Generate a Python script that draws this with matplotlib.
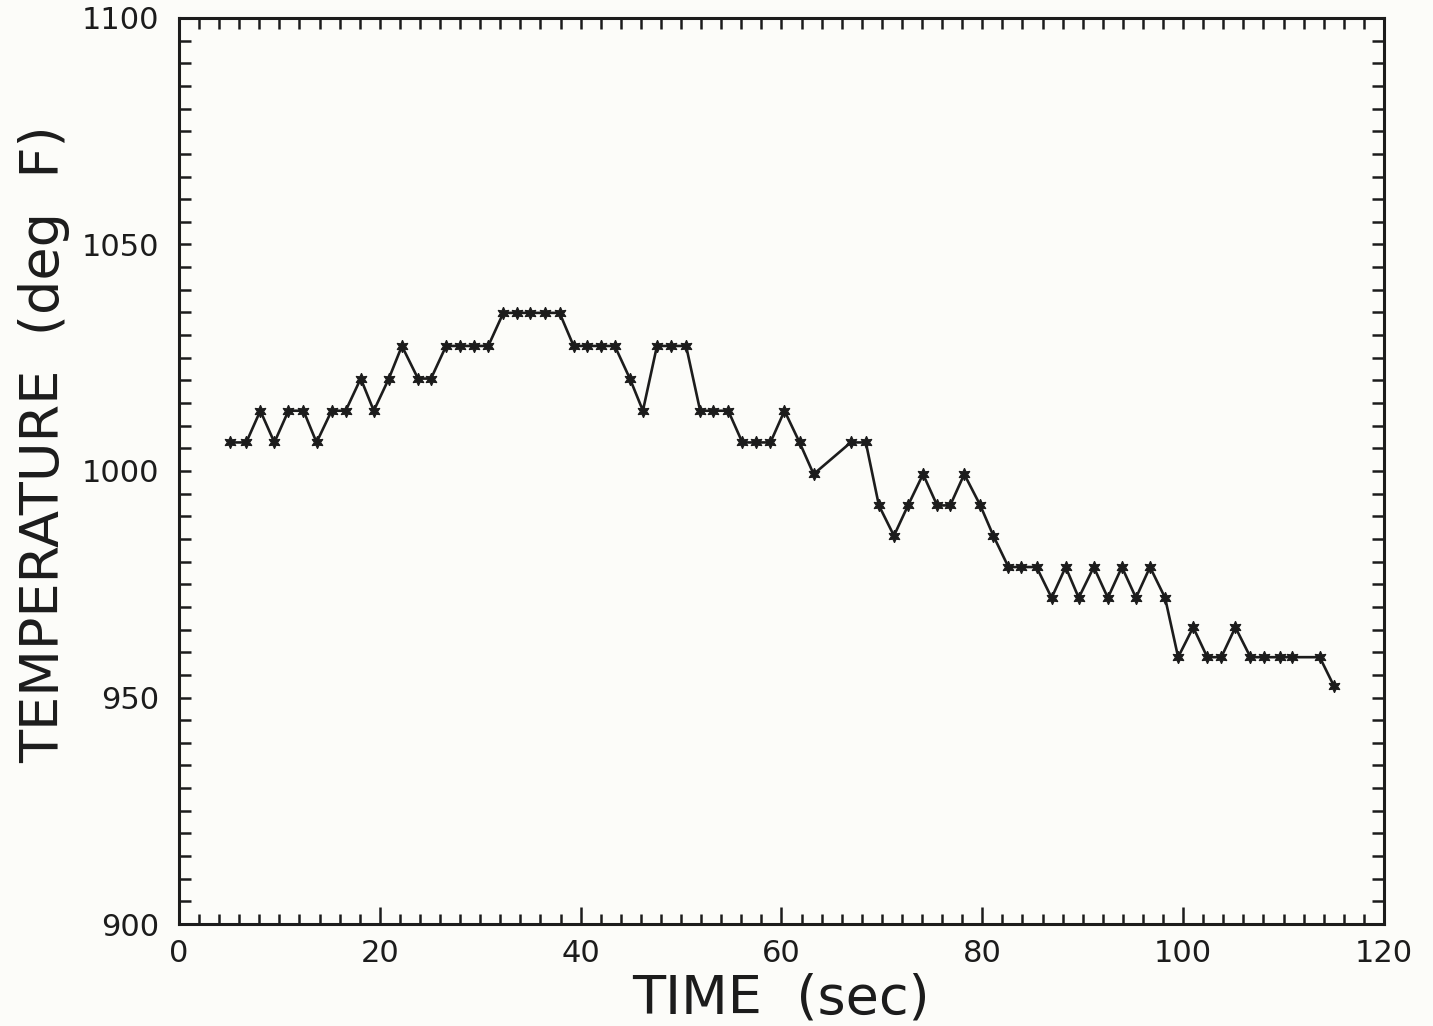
import numpy as np
import matplotlib
matplotlib.use("Agg")
import matplotlib.pyplot as plt
from matplotlib.ticker import MultipleLocator

# thermocouple record, sampled roughly every 1.4 s
time_s = [5.1, 6.7, 8.1, 9.5, 10.9, 12.4, 13.7, 15.2, 16.6, 18.1,
          19.4, 20.9, 22.2, 23.8, 25.1, 26.6, 28.0, 29.4, 30.8, 32.3,
          33.7, 35.0, 36.4, 37.9, 39.3, 40.6, 42.0, 43.4, 44.9, 46.2,
          47.6, 49.0, 50.5, 51.9, 53.2, 54.7, 56.1, 57.5, 58.9, 60.3,
          61.8, 63.2, 66.9, 68.4, 69.7, 71.2, 72.6, 74.1, 75.5, 76.8,
          78.2, 79.8, 81.1, 82.6, 83.9, 85.4, 86.9, 88.3, 89.6, 91.1,
          92.5, 93.9, 95.3, 96.7, 98.2, 99.5, 101.0, 102.4, 103.8, 105.2,
          106.7, 108.1, 109.6, 110.8, 113.6, 115.0]
temp_f = [1006.3, 1006.3, 1013.3, 1006.3, 1013.3, 1013.3, 1006.3, 1013.3, 1013.3, 1020.4,
          1013.3, 1020.4, 1027.6, 1020.4, 1020.4, 1027.6, 1027.6, 1027.6, 1027.6, 1034.9,
          1034.9, 1034.9, 1034.9, 1034.9, 1027.6, 1027.6, 1027.6, 1027.6, 1020.4, 1013.3,
          1027.6, 1027.6, 1027.6, 1013.3, 1013.3, 1013.3, 1006.3, 1006.3, 1006.3, 1013.3,
          1006.3, 999.3, 1006.3, 1006.3, 992.4, 985.7, 992.4, 999.3, 992.4, 992.4,
          999.3, 992.4, 985.7, 978.8, 978.8, 978.8, 972.0, 978.8, 972.0, 978.8,
          972.0, 978.8, 972.0, 978.8, 972.0, 958.9, 965.5, 958.9, 958.9, 965.5,
          958.9, 958.9, 958.9, 958.9, 958.9, 952.6]

x_ticks = [0, 20, 40, 60, 80, 100, 120]
y_ticks = [900, 950, 1000, 1050, 1100]

bg = "#fcfcf9"
ink = "#1c1c1c"

fig = plt.figure(figsize=(14.33, 10.26), dpi=100, facecolor=bg)
ax = fig.add_axes([0.1249, 0.0994, 0.8409, 0.8831], facecolor=bg)

ax.plot(time_s, temp_f, color=ink, linewidth=1.9,
        marker=(6, 1, 0), markersize=9, markerfacecolor=ink,
        markeredgecolor=ink, markeredgewidth=0.8)

ax.set_xlim(0, 120)
ax.set_ylim(900, 1100)
ax.set_xticks(x_ticks)
ax.set_yticks(y_ticks)
ax.xaxis.set_minor_locator(MultipleLocator(2))
ax.yaxis.set_minor_locator(MultipleLocator(5))

for s in ax.spines.values():
    s.set_linewidth(2.2)
    s.set_color(ink)

ax.tick_params(axis="x", which="major", direction="in", length=12, width=1.8,
               colors=ink, labelsize=22, pad=11, top=False)
ax.tick_params(axis="x", which="minor", direction="in", length=7, width=1.8,
               colors=ink, top=False)
ax.tick_params(axis="y", which="both", direction="in", length=8.5, width=1.8,
               colors=ink, right=True)
ax.tick_params(axis="y", which="major", labelsize=22, pad=14)

# top edge: evenly sized ticks every 2 s, no labels
top = ax.secondary_xaxis("top")
top.set_xticks(np.arange(0, 121, 2))
top.tick_params(direction="in", length=8, width=1.8, colors=ink, labeltop=False)
top.spines["top"].set_visible(False)

fig.text(781 / 1433, 2 / 1026, "TIME  (sec)", ha="center", va="bottom",
         fontsize=39, color=ink)
fig.text(44 / 1433, 1 - 444 / 1026, "TEMPERATURE  (deg  F)", ha="center", va="center",
         rotation=90, fontsize=39, color=ink)

fig.savefig("out.png", dpi=100, facecolor=bg)
